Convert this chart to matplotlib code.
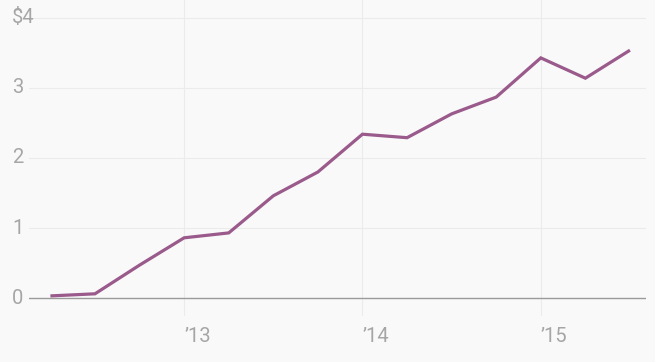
import matplotlib
matplotlib.use("Agg")
import matplotlib.pyplot as plt

# quarterly values
quarters = [2012.25, 2012.5, 2012.75, 2013.0, 2013.25, 2013.5, 2013.75,
            2014.0, 2014.25, 2014.5, 2014.75, 2015.0, 2015.25, 2015.5]
values = [0.03, 0.06, 0.47, 0.86, 0.93, 1.46, 1.80,
          2.34, 2.29, 2.63, 2.87, 3.43, 3.14, 3.54]

year_ticks = [2013, 2014, 2015]
year_labels = ["\u201913", "\u201914", "\u201915"]
y_ticks = [0, 1, 2, 3, 4]
y_labels = ["0", "1", "2", "3", "$4"]

bg = "#f9f9f9"
txt = "#a6a6a6"
grid = "#ebebeb"

plt.rcParams['font.family'] = ['Roboto', 'DejaVu Sans']

fig = plt.figure(figsize=(6.55, 3.62), dpi=100, facecolor=bg)
ax = fig.add_axes([29/655, 46/362, 617/655, 1 - 46/362])
ax.set_facecolor(bg)

ax.set_xlim(2012.13, 2015.59)
ax.set_ylim(-0.257, 4.257)

for y in y_ticks[1:]:
    ax.axhline(y, color=grid, lw=0.8, zorder=1)
ax.axhline(0, color="#9a9a9a", lw=1.0, zorder=2)
for x in year_ticks:
    ax.axvline(x, color=grid, lw=0.8, zorder=1)

ax.plot(quarters, values, color="#9a5a8b", lw=2.3, zorder=3,
        solid_joinstyle="miter", solid_capstyle="butt")

for y, lab in zip(y_ticks, y_labels):
    ax.text(-17/617, y, lab, transform=ax.get_yaxis_transform(),
            ha="left", va="center", color=txt, fontsize=14.5)

ax.set_xticks(year_ticks)
ax.set_xticklabels(year_labels, ha="left", color=txt, fontsize=14.5)
ax.tick_params(axis="x", length=0, pad=8)
ax.set_yticks([])
for s in ax.spines.values():
    s.set_visible(False)

fig.savefig("out.png", dpi=100, facecolor=bg)
